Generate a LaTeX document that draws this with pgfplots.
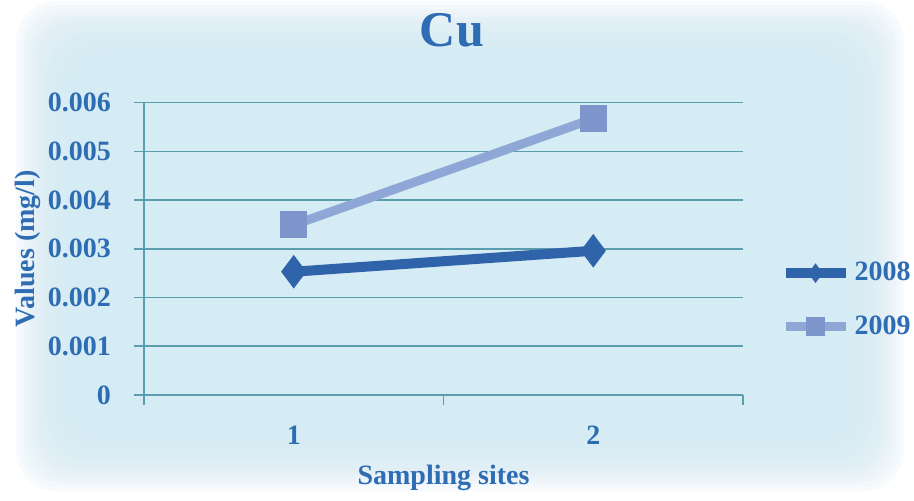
\documentclass[border=0pt]{standalone}
\usepackage{fontspec}
\setmainfont{Liberation Serif}
\usepackage{pgfplots}
\pgfplotsset{compat=1.18}

\definecolor{txtblue}{HTML}{2E6DB4}
\definecolor{gridteal}{HTML}{5A9EAD}
\definecolor{bgblue}{HTML}{D6ECF4}
\definecolor{lineA}{HTML}{2F64AB}
\definecolor{lineB}{HTML}{8EA7D7}
\definecolor{markB}{HTML}{7D95CB}

\begin{document}
\begin{tikzpicture}
  % canvas and soft blue backdrop, built from stacked translucent layers
  \useasboundingbox (-72pt,-52.5pt) rectangle (385pt,197.5pt);
  \fill[white] (-72pt,-52.5pt) rectangle (385pt,197.5pt);
  \foreach \i in {0,...,15}{
    \fill[bgblue, opacity=0.17, rounded corners=20pt]
      ({-64pt+\i*2pt},{-48pt+\i*2pt}) rectangle ({380pt-\i*2pt},{197pt-\i*2pt});
  }
  \begin{axis}[
    at={(0,0)}, anchor=south west,
    scale only axis, width=299.5pt, height=146.2pt,
    xmin=0.5, xmax=2.5, ymin=0, ymax=0.006,
    axis x line*=bottom, axis y line*=left,
    axis line style={gridteal, line width=0.8pt},
    xtick={0.5,1.5,2.5}, xticklabels={},
    extra x ticks={1,2}, extra x tick labels={1,2},
    extra x tick style={major tick length=0pt, grid=none},
    ytick={0,0.001,0.002,0.003,0.004,0.005,0.006},
    yticklabels={0,0.001,0.002,0.003,0.004,0.005,0.006},
    scaled y ticks=false,
    tick align=outside, major tick length=5pt,
    tick style={gridteal, line width=0.8pt},
    ymajorgrids, grid style={gridteal, line width=0.8pt},
    /pgf/number format/assume math mode=true,
    ticklabel style={font=\fontsize{14}{16}\selectfont\bfseries, text=txtblue},
    yticklabel style={anchor=east, xshift=-8pt},
    xticklabel style={yshift=-12pt},
    label style={font=\fontsize{14}{16}\selectfont\bfseries, text=txtblue},
    xlabel={Sampling sites},
    xlabel style={at={(rel axis cs:0.5,-0.284)}, anchor=center},
    ylabel={Values (mg/l)},
    ylabel style={at={(rel axis cs:-0.194,0.5)}, anchor=center},
    title={Cu},
    title style={at={(rel axis cs:0.514,1.207)}, anchor=center,
      font=\fontsize{25}{28}\selectfont\bfseries, text=txtblue},
    legend style={at={(rel axis cs:1.062,0.325)}, anchor=west,
      draw=none, fill=none, row sep=12pt,
      font=\fontsize{14}{16}\selectfont\bfseries, text=txtblue,
      inner sep=0pt, /tikz/every even column/.append style={column sep=0pt}},
    legend cell align=left,
    legend image code/.code={
      \draw[#1, mark=none] (0pt,0pt) -- (30pt,0pt);
      \draw[#1, only marks, mark size=4.5pt] plot coordinates {(15pt,0pt)};
    },
  ]
    % 2008 series
    \addplot[lineA, line width=5pt, mark=diamond*, mark size=8pt,
      mark options={fill=lineA, draw=lineA, line width=0.5pt}]
      coordinates {(1,0.00253) (2,0.00296)};
    \addlegendentry{2008}
    % 2009 series
    \addplot[lineB, line width=4.5pt, mark=square*, mark size=6.5pt,
      mark options={fill=markB, draw=markB, line width=0.5pt}]
      coordinates {(1,0.00349) (2,0.00567)};
    \addlegendentry{2009}
  \end{axis}
\end{tikzpicture}
\end{document}
